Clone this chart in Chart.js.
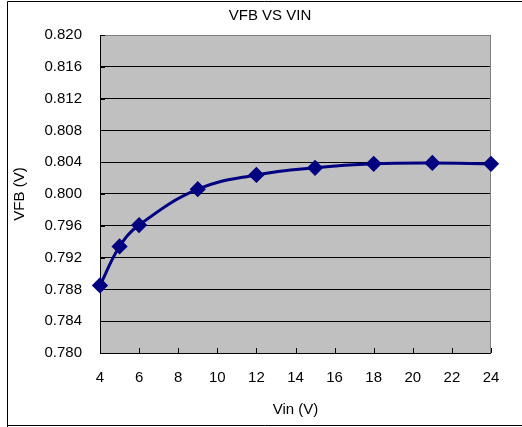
<!DOCTYPE html>
<html>
<head>
<meta charset="utf-8">
<script src="https://cdn.jsdelivr.net/npm/chart.js@4/dist/chart.umd.min.js"></script>
<style>
  body { margin: 0; background: #fff; }
  #wrap { width: 522px; height: 427px; position: relative; }
</style>
</head>
<body>
<div id="wrap"><canvas id="graph"></canvas></div>
<script>
// data
const chartTitle = 'VFB VS VIN';
const vin = [4, 5, 6, 9, 12, 15, 18, 21, 24];
const vfb = [0.7885, 0.7934, 0.7961, 0.8006, 0.8024, 0.8033, 0.8038, 0.8039, 0.8038];
const yTicks = [0.780, 0.784, 0.788, 0.792, 0.796, 0.800, 0.804, 0.808, 0.812, 0.816, 0.820];
const xTicks = [4, 6, 8, 10, 12, 14, 16, 18, 20, 22, 24];

const font = { family: 'Liberation Sans, Arial, sans-serif', size: 15 };

// grey plot area, outer frame, title and the little inside tick marks
const frame = {
  id: 'frame',
  beforeDraw(chart) {
    const c = chart.ctx, a = chart.chartArea;
    c.save();
    c.fillStyle = '#fff';
    c.fillRect(0, 0, chart.width, chart.height);
    c.fillStyle = '#c0c0c0';
    c.fillRect(a.left, a.top, a.right - a.left, a.bottom - a.top);
    // outer border
    c.strokeStyle = '#000';
    c.lineWidth = 1;
    c.beginPath();
    c.moveTo(7.5, 427);
    c.lineTo(7.5, 1.5);
    c.lineTo(522, 1.5);
    c.moveTo(7.5, 425.5);
    c.lineTo(522, 425.5);
    c.stroke();
    // title (sits a bit right of the plot centre in the original)
    c.fillStyle = '#000';
    c.font = '15px Liberation Sans, Arial, sans-serif';
    c.textAlign = 'center';
    c.textBaseline = 'middle';
    c.fillText(chartTitle, 270, 16);
    c.restore();
  },
  beforeDatasetsDraw(chart) {
    const c = chart.ctx, a = chart.chartArea;
    const x = chart.scales.x, y = chart.scales.y;
    c.save();
    c.strokeStyle = '#808080';
    c.lineWidth = 1;
    c.beginPath();
    c.moveTo(a.left, a.top + 0.5);
    c.lineTo(a.right - 0.5, a.top + 0.5);
    c.lineTo(a.right - 0.5, a.bottom);
    c.stroke();
    c.strokeStyle = '#000';
    c.beginPath();
    c.moveTo(a.left + 0.5, a.top);
    c.lineTo(a.left + 0.5, a.bottom + 0.5);
    c.lineTo(a.right, a.bottom + 0.5);
    xTicks.forEach(v => {
      const px = Math.round(x.getPixelForValue(v)) + 0.5;
      c.moveTo(px, a.bottom);
      c.lineTo(px, a.bottom - 5);
    });
    yTicks.forEach(v => {
      const py = Math.round(y.getPixelForValue(v)) + 0.5;
      c.moveTo(a.left, py);
      c.lineTo(a.left + 5, py);
    });
    c.stroke();
    c.restore();
  }
};

new Chart(document.getElementById('graph'), {
  type: 'line',
  data: {
    datasets: [{
      data: vin.map((v, i) => ({ x: v, y: vfb[i] })),
      borderColor: '#000080',
      backgroundColor: '#000080',
      borderWidth: 3,
      tension: 0.4,
      pointStyle: 'rectRot',
      pointRadius: 6,
      pointHoverRadius: 6,
      clip: false
    }]
  },
  options: {
    responsive: true,
    maintainAspectRatio: false,
    animation: false,
    devicePixelRatio: 1,
    layout: { padding: { left: 7, right: 31, top: 35, bottom: 5 } },
    plugins: {
      legend: { display: false },
      tooltip: { enabled: false },
      title: { display: false }
    },
    scales: {
      x: {
        type: 'linear',
        min: 4,
        max: 24,
        afterBuildTicks: s => { s.ticks = xTicks.map(v => ({ value: v })); },
        afterFit: s => { s.height = 69; },
        grid: { display: false, drawTicks: false },
        border: { display: false },
        ticks: { color: '#000', font, padding: 16, maxRotation: 0 },
        title: { display: true, text: 'Vin (V)', color: '#000', font, padding: { top: 0, bottom: 3 } }
      },
      y: {
        min: 0.780,
        max: 0.820,
        afterBuildTicks: s => { s.ticks = yTicks.map(v => ({ value: v })); },
        afterFit: s => { s.width = 93; },
        grid: { color: '#000', lineWidth: 1, drawTicks: false },
        border: { display: false },
        ticks: { color: '#000', font, padding: 18, callback: v => v.toFixed(3) },
        title: { display: true, text: 'VFB (V)', color: '#000', font, padding: { top: 4, bottom: 0 } }
      }
    }
  },
  plugins: [frame]
});
</script>
</body>
</html>
